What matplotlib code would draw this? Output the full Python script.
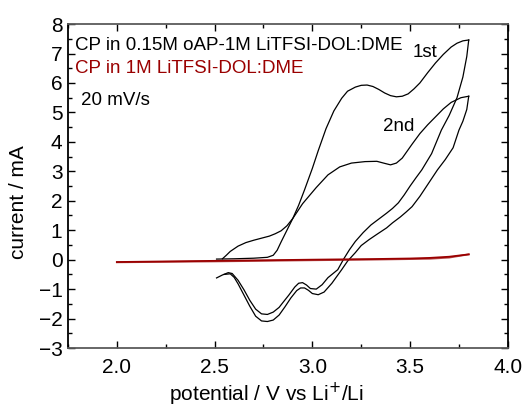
import numpy as np
import matplotlib
matplotlib.use("Agg")
import matplotlib.pyplot as plt
from matplotlib.ticker import MultipleLocator

plt.rcParams["font.family"] = ["Liberation Sans", "DejaVu Sans"]

# first cycle, anodic sweep (V, mA)
a1_v = [2.51, 2.60, 2.70, 2.77, 2.80, 2.82, 2.84, 2.87, 2.90, 2.93, 2.96, 3.00,
        3.03, 3.07, 3.11, 3.15, 3.18, 3.22, 3.25, 3.28, 3.31, 3.34, 3.37, 3.40,
        3.43, 3.46, 3.49, 3.52, 3.55, 3.59, 3.63, 3.67, 3.71, 3.74, 3.77, 3.80]
a1_i = [0.02, 0.03, 0.05, 0.08, 0.15, 0.32, 0.60, 1.00, 1.40, 1.85, 2.37, 3.10,
        3.70, 4.45, 5.05, 5.48, 5.72, 5.86, 5.92, 5.93, 5.88, 5.78, 5.66, 5.57,
        5.53, 5.55, 5.63, 5.80, 6.00, 6.35, 6.68, 6.97, 7.22, 7.35, 7.43, 7.46]
# first cycle, cathodic sweep
c1_v = [3.80, 3.79, 3.77, 3.74, 3.70, 3.66, 3.61, 3.56, 3.53, 3.50, 3.47, 3.44,
        3.41, 3.38, 3.34, 3.30, 3.26, 3.22, 3.19, 3.16, 3.13, 3.08, 3.05, 3.02,
        2.99, 2.97, 2.95, 2.93, 2.91, 2.88, 2.85, 2.83, 2.80, 2.77, 2.74, 2.71,
        2.68, 2.65, 2.62, 2.59, 2.57, 2.54, 2.51]
c1_i = [7.46, 6.90, 6.20, 5.50, 4.90, 4.40, 3.60, 3.05, 2.78, 2.50, 2.20, 1.93,
        1.74, 1.58, 1.38, 1.18, 0.92, 0.62, 0.34, 0.02, -0.34, -0.61, -0.85, -1.00,
        -0.98, -0.86, -0.78, -0.80, -0.93, -1.20, -1.45, -1.62, -1.78, -1.86,
        -1.84, -1.68, -1.38, -1.02, -0.70, -0.47, -0.44, -0.52, -0.62]
# second cycle, anodic sweep
a2_v = [2.54, 2.56, 2.58, 2.62, 2.66, 2.70, 2.74, 2.78, 2.81, 2.84, 2.87, 2.90,
        2.95, 3.02, 3.08, 3.14, 3.20, 3.27, 3.33, 3.37, 3.40, 3.43, 3.46, 3.51,
        3.55, 3.59, 3.63, 3.67, 3.71, 3.76, 3.80]
a2_i = [0.03, 0.15, 0.28, 0.46, 0.58, 0.66, 0.73, 0.80, 0.88, 0.98, 1.15, 1.40,
        1.90, 2.45, 2.88, 3.15, 3.28, 3.33, 3.34, 3.27, 3.22, 3.28, 3.45, 3.92,
        4.28, 4.58, 4.85, 5.12, 5.34, 5.50, 5.55]
# second cycle, cathodic sweep
c2_v = [3.80, 3.79, 3.77, 3.75, 3.72, 3.68, 3.64, 3.61, 3.58, 3.55, 3.51, 3.48,
        3.45, 3.41, 3.38, 3.33, 3.29, 3.25, 3.22, 3.18, 3.15, 3.10, 3.06, 3.03,
        3.00, 2.98, 2.96, 2.94, 2.92, 2.89, 2.86, 2.83, 2.80, 2.77, 2.74, 2.71,
        2.68, 2.65, 2.62, 2.60, 2.58, 2.55]
c2_i = [5.55, 5.10, 4.70, 4.40, 3.80, 3.40, 3.05, 2.75, 2.45, 2.15, 1.80, 1.62,
        1.45, 1.25, 1.08, 0.86, 0.68, 0.48, 0.24, -0.05, -0.34, -0.80, -1.10,
        -1.19, -1.15, -1.04, -0.96, -0.96, -1.05, -1.30, -1.60, -1.88, -2.05,
        -2.10, -2.08, -1.92, -1.58, -1.20, -0.82, -0.60, -0.48, -0.50]
# blank electrolyte
r_fwd_v = [2.0, 2.5, 3.0, 3.3, 3.5, 3.6, 3.7, 3.8]
r_fwd_i = [-0.08, -0.04, 0.0, 0.02, 0.04, 0.06, 0.10, 0.18]
r_rev_v = [3.8, 3.7, 3.6, 3.3, 3.0, 2.5, 2.0]
r_rev_i = [0.18, 0.07, 0.03, 0.0, -0.02, -0.06, -0.09]

darkred = "#9a0000"

fig = plt.figure(figsize=(5.23, 4.08), dpi=100)
ax = fig.add_axes([0.130, 0.147, 0.841, 0.794])

for v, i in [(a1_v, a1_i), (c1_v, c1_i), (a2_v, a2_i), (c2_v, c2_i)]:
    ax.plot(v, i, color="black", lw=0.9)
ax.plot(r_fwd_v, r_fwd_i, color=darkred, lw=1.3)
ax.plot(r_rev_v, r_rev_i, color=darkred, lw=1.3, alpha=0.7)

ax.set_xlim(1.75, 4.0)
ax.set_ylim(-3, 8)
ax.xaxis.set_major_locator(MultipleLocator(0.5))
ax.xaxis.set_minor_locator(MultipleLocator(0.25))
ax.yaxis.set_major_locator(MultipleLocator(1))
ax.yaxis.set_minor_locator(MultipleLocator(0.5))
ax.xaxis.set_major_formatter(plt.FormatStrFormatter("%.1f"))

ax.tick_params(which="both", direction="in", top=True, right=True, labelsize=15)
ax.tick_params(which="major", length=5, width=1)
ax.tick_params(which="minor", length=3, width=1)
ax.tick_params(axis="x", pad=7)
ax.tick_params(axis="y", pad=4)
for s in ["left", "right"]:
    ax.spines[s].set_color("black")
for s in ["top", "bottom"]:
    ax.spines[s].set_color("#5a5a5a")
for s in ax.spines.values():
    s.set_linewidth(1.3)

ax.set_xlabel("potential / V vs Li$^{+}$/Li", fontsize=15)
ax.set_ylabel("current / mA", fontsize=15)
ax.xaxis.set_label_coords(0.452, -0.10)
ax.yaxis.set_label_coords(-0.091, 0.45)

ax.text(1.786, 7.12, "CP in 0.15M oAP-1M LiTFSI-DOL:DME", fontsize=13.5, va="baseline")
ax.text(1.786, 6.35, "CP in 1M LiTFSI-DOL:DME", fontsize=13.5, va="baseline", color=darkred)
ax.text(1.816, 5.25, "20 mV/s", fontsize=13.5, va="baseline")
ax.text(3.515, 6.88, "1st", fontsize=13.5, va="baseline")
ax.text(3.362, 4.37, "2nd", fontsize=13.5, va="baseline")

fig.savefig("out.png", dpi=100)
